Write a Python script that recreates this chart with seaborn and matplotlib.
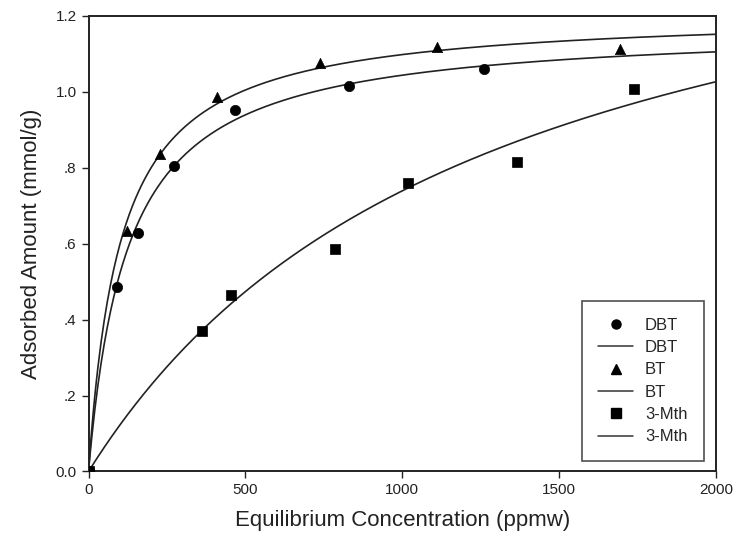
import numpy as np
import pandas as pd
import matplotlib
matplotlib.use("Agg")
import matplotlib.pyplot as plt
import seaborn as sns

dbt_c = [0, 90, 157, 273, 467, 831, 1260]
dbt_q = [0.0, 0.487, 0.627, 0.805, 0.952, 1.015, 1.060]
bt_c = [0, 124, 228, 409, 738, 1110, 1694]
bt_q = [0.0, 0.633, 0.835, 0.987, 1.075, 1.118, 1.112]
mth_c = [0, 361, 453, 786, 1019, 1367, 1738]
mth_q = [0.0, 0.371, 0.465, 0.585, 0.759, 0.816, 1.007]

# Langmuir fit parameters (qm, K) estimated from the drawn curves
fit_qm = {"DBT": 1.174, "BT": 1.210, "3-Mth": 1.679}
fit_K = {"DBT": 0.00799, "BT": 0.00977, "3-Mth": 0.000786}

yticks = [0.0, 0.2, 0.4, 0.6, 0.8, 1.0, 1.2]
ytick_labels = ["0.0", ".2", ".4", ".6", ".8", "1.0", "1.2"]
xticks = [0, 500, 1000, 1500, 2000]
xtick_labels = ["0", "500", "1000", "1500", "2000"]

sns.set_theme(style="ticks")
plt.rcParams["font.family"] = ["Liberation Sans", "DejaVu Sans"]

fig = plt.figure(figsize=(7.4, 5.53), dpi=100)
ax = fig.add_axes([0.1196, 0.1474, 0.848, 0.8242])

pts = {"DBT": (dbt_c, dbt_q, "o"), "BT": (bt_c, bt_q, "^"), "3-Mth": (mth_c, mth_q, "s")}
cgrid = np.linspace(0, 2000, 400)
handles = []
labels = []
for name, (c, q, m) in pts.items():
    df = pd.DataFrame({"c": c, "q": q})
    sns.scatterplot(data=df, x="c", y="q", ax=ax, marker=m, s=55 if m != "s" else 45,
                    color="black", edgecolor="black", linewidth=0.5, zorder=3, legend=False)
    qm, K = fit_qm[name], fit_K[name]
    fdf = pd.DataFrame({"c": cgrid, "q": qm * K * cgrid / (1 + K * cgrid)})
    sns.lineplot(data=fdf, x="c", y="q", ax=ax, color="#222222", linewidth=1.2, legend=False, zorder=2)
    h1 = plt.Line2D([], [], marker=m, color="black", linestyle="none", markersize=6.5)
    h2 = plt.Line2D([], [], color="#333333", linewidth=1.1)
    handles += [h1, h2]
    labels += [name, name]

ax.set_xlim(0, 2000)
ax.set_ylim(0, 1.2)
ax.set_xticks(xticks)
ax.set_xticklabels(xtick_labels)
ax.set_yticks(yticks)
ax.set_yticklabels(ytick_labels)
ax.tick_params(axis="both", labelsize=11, direction="out", length=5, width=1, colors="#222222")
for s in ax.spines.values():
    s.set_linewidth(1.4)
    s.set_color("#222222")
ax.set_xlabel("Equilibrium Concentration (ppmw)", fontsize=16, labelpad=9, color="#222222")
ax.set_ylabel("Adsorbed Amount (mmol/g)", fontsize=16, labelpad=10, color="#222222")

leg = ax.legend(handles, labels, loc="lower right", bbox_to_anchor=(0.981, 0.023),
                borderaxespad=0, fontsize=12, frameon=True, fancybox=False, edgecolor="#222222",
                handlelength=2.1, handletextpad=0.7, labelspacing=0.44, borderpad=1.0)
leg.get_frame().set_linewidth(1.2)

fig.savefig("out.png", dpi=100, facecolor="white")
